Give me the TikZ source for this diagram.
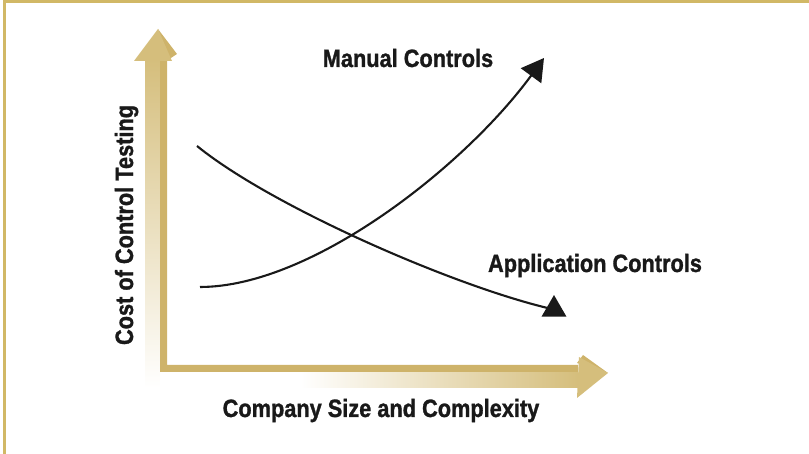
\documentclass[tikz,border=0pt]{standalone}
\usepackage{fontspec}
\setmainfont[FakeStretch=0.87,BoldFeatures={FakeBold=1.2}]{Liberation Sans}
\usetikzlibrary{arrows.meta,shapes.geometric}
\definecolor{goldline}{RGB}{209,184,102}
\definecolor{goldaxis}{RGB}{213,190,124}
\definecolor{golddark}{RGB}{206,179,106}
\tikzset{
  axislabel/.style={font=\fontsize{25}{30}\selectfont\bfseries,text=black!90,inner sep=0pt,anchor=base},
  costcurve/.style={line width=2.1pt,black!90},
}
\begin{document}
\begin{tikzpicture}[x=1pt,y=1pt]
        \useasboundingbox (0,0) rectangle (809,454);
        \draw[goldline,line width=2.8pt] (4.6,0) -- (4.6,452.7) -- (809,452.7);
        % axes
        \shade[top color=goldaxis,bottom color=white] (145,395) rectangle (160,66);
        \shade[left color=white,right color=goldaxis] (300,82) rectangle (578,66);
        \fill[golddark] (160,395) -- (167,395) -- (167,89) -- (578,89) -- (578,82) -- (160,82) -- cycle;
        \fill[golddark] (158,425) -- (177,400) -- (168,394) -- cycle;
        \fill[goldaxis] (158,425) -- (134,393) -- (172,393) -- cycle;
        \fill[golddark] (608,81) -- (583,99) -- (577,91) -- cycle;
        \fill[goldaxis] (608,81) -- (579,97) -- (577,56) -- cycle;
        % curves
        \coordinate (manStart) at (200,167);
        \coordinate (manEnd) at (544,396);
        \coordinate (appStart) at (197,308);
        \coordinate (appEnd) at (554,144.5);
        \draw[costcurve,-{Triangle[length=22pt,width=25pt]}] (manStart) .. controls (312,167) and (465,288) .. (manEnd);
        \draw[costcurve] (appStart) .. controls (272,247) and (458,166) .. (appEnd);
        \node[regular polygon,regular polygon sides=3,fill=black!90,inner sep=0pt,minimum size=28.9pt] (appTip) at (appEnd) {};
        \node[axislabel] (manLabel) at (408,387) {Manual Controls};
        \node[axislabel] (appLabel) at (595,182) {Application Controls};
        \node[axislabel] (sizeLabel) at (381,37) {Company Size and Complexity};
        \node[axislabel,rotate=90] (costLabel) at (133,229) {Cost of Control Testing};
\end{tikzpicture}
\end{document}
